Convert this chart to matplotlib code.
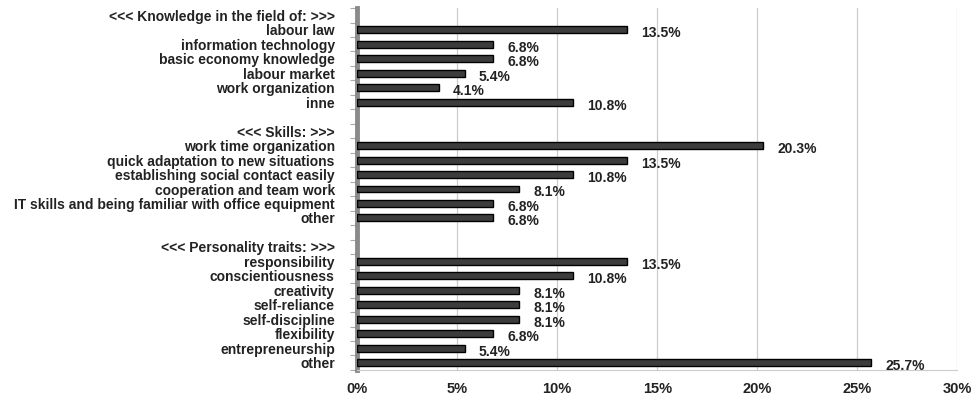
import matplotlib.pyplot as plt
import numpy as np

plt.rcParams['font.family'] = ['Liberation Sans', 'DejaVu Sans']

# grupy kategorii i wartości (%)
knowledge_labels = ["labour law", "information technology", "basic economy knowledge",
                    "labour market", "work organization", "inne"]
knowledge_vals = [13.5, 6.8, 6.8, 5.4, 4.1, 10.8]

skills_labels = ["work time organization", "quick adaptation to new situations",
                 "establishing social contact easily", "cooperation and team work",
                 "IT skills and being familiar with office equipment", "other"]
skills_vals = [20.3, 13.5, 10.8, 8.1, 6.8, 6.8]

traits_labels = ["responsibility", "conscientiousness", "creativity", "self-reliance",
                 "self-discipline", "flexibility", "entrepreneurship", "other"]
traits_vals = [13.5, 10.8, 8.1, 8.1, 8.1, 6.8, 5.4, 25.7]

headers = ["<<< Knowledge in the field of: >>>", "<<< Skills: >>>", "<<< Personality traits: >>>"]

# składanie wierszy (nagłówek, pozycje, pusta linia)
labels = []
values = []
groups = [(knowledge_labels, knowledge_vals), (skills_labels, skills_vals),
          (traits_labels, traits_vals)]
for i, (h, (labs, vals)) in enumerate(zip(headers, groups)):
    labels.append(h)
    values.append(np.nan)
    labels += labs
    values += vals
    if i < len(groups) - 1:
        labels.append("")
        values.append(np.nan)

y = np.arange(len(labels))

fig = plt.figure(figsize=(9.73, 4.03), dpi=100)
ax = fig.add_axes([0.367, 0.082, 0.617, 0.898])

ax.barh(y, values, height=0.48, color='#3c3c3c', edgecolor='black', linewidth=1.0, zorder=3)

for yi, v in zip(y, values):
    if np.isnan(v):
        continue
    ax.annotate(f"{v:.1f}%", (v, yi), xytext=(10, -2.5), textcoords='offset points',
                va='center', ha='left', fontsize=10, fontweight='bold', color='#222222')

ax.set_ylim(len(labels) - 0.5, -0.5)
ax.set_xlim(0, 30)
ax.set_yticks(y)
ax.set_yticklabels(labels, fontsize=10, fontweight='bold', color='#222222')
ax.tick_params(axis='y', which='major', length=0, pad=16)
ax.set_yticks(np.arange(-0.5, len(labels), 1), minor=True)
ax.tick_params(axis='y', which='minor', length=5, color='#aaaaaa', width=0.8)

ax.set_xticks(np.arange(0, 31, 5))
ax.set_xticklabels([f"{t}%" for t in range(0, 31, 5)], fontsize=10.5, fontweight='bold',
                   color='#222222')
ax.tick_params(axis='x', length=0, pad=9)

ax.grid(axis='x', color='#cccccc', linewidth=0.9, zorder=0)
for s in ['top', 'right']:
    ax.spines[s].set_visible(False)
ax.spines['bottom'].set_color('#cccccc')
ax.spines['left'].set_color('#8a8a8a')
ax.spines['left'].set_linewidth(3.5)

fig.savefig("out.png", dpi=100)
